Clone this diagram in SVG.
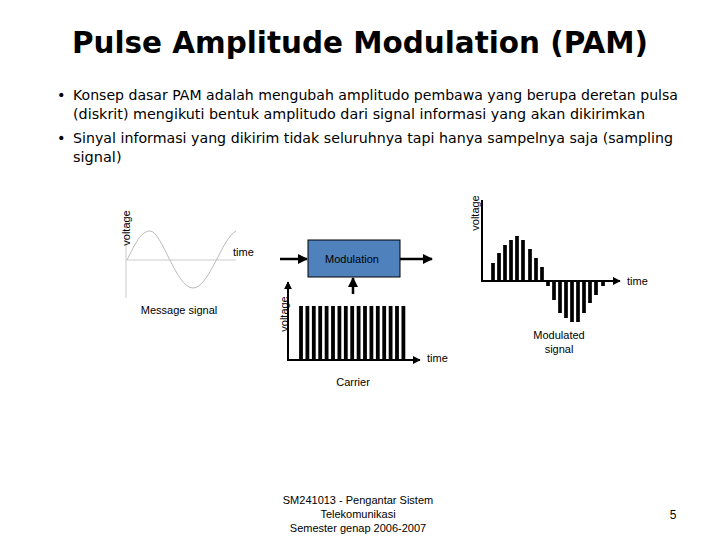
<svg xmlns="http://www.w3.org/2000/svg" width="720" height="540" viewBox="0 0 720 540">
<defs>
<style>
.t{font-family:"Liberation Sans",Arial,sans-serif;fill:#000}
.s{font-size:11px}
.b{font-family:"DejaVu Sans",Verdana,sans-serif;font-size:14.5px;fill:#000}
.ax{stroke:#000;stroke-width:2;fill:none}
.ln{stroke:#000;stroke-width:2.5;fill:none}
</style>
<marker id="ar" viewBox="0 0 10 10" refX="9" refY="5" markerWidth="4" markerHeight="4" orient="auto"><path d="M0,0L10,5L0,10z" fill="#000"/></marker>
</defs>
<rect width="720" height="540" fill="#fff"/>
<text x="360" y="53" text-anchor="middle" font-family="DejaVu Sans,sans-serif" font-weight="bold" font-size="31" textLength="576" lengthAdjust="spacingAndGlyphs">Pulse Amplitude Modulation (PAM)</text>
<g class="b">
<text x="57" y="100">•</text>
<text x="73" y="100" textLength="605" lengthAdjust="spacingAndGlyphs">Konsep dasar PAM adalah mengubah amplitudo pembawa yang berupa deretan pulsa</text>
<text x="73" y="119" textLength="572" lengthAdjust="spacingAndGlyphs">(diskrit) mengikuti bentuk amplitudo dari signal informasi yang akan dikirimkan</text>
<text x="57" y="143">•</text>
<text x="73" y="143" textLength="600" lengthAdjust="spacingAndGlyphs">Sinyal informasi yang dikirim tidak seluruhnya tapi hanya sampelnya saja (sampling</text>
<text x="73" y="162">signal)</text>
</g>
<g id="message">
<line x1="126" y1="210" x2="126" y2="298" stroke="#ccc"/>
<line x1="126" y1="260" x2="236" y2="260" stroke="#ccc"/>
<path d="M127,260 C135,244 141,231 150,231 C162,231 176,288 193,288 C209,288 222,238 236,231" stroke="#bbb" fill="none" stroke-width="1"/>
<text class="t s" transform="translate(130,228) rotate(-90)" text-anchor="middle">voltage</text>
<text class="t s" x="233" y="256">time</text>
<text class="t s" x="179" y="314" text-anchor="middle">Message signal</text>
</g>
<g id="modulation">
<rect x="308" y="240" width="92" height="37" fill="#4f81bd" stroke="#000" stroke-width="1"/>
<text class="t s" x="352" y="263" text-anchor="middle">Modulation</text>
</g>
<g id="carrier">
<line class="ax" x1="288" y1="361" x2="288" y2="282" marker-end="url(#ar)"/>
<line class="ax" x1="288" y1="360" x2="420" y2="360" marker-end="url(#ar)"/>
<path stroke="#000" stroke-width="3.8" d="M301,306V360M307.4,306V360M313.8,306V360M320.2,306V360M326.6,306V360M333,306V360M339.4,306V360M345.8,306V360M352.2,306V360M358.6,306V360M365,306V360M371.4,306V360M377.8,306V360M384.2,306V360M390.6,306V360M397,306V360M403.4,306V360"/>
<text class="t s" transform="translate(288,314) rotate(-90)" text-anchor="middle">voltage</text>
<text class="t s" x="427" y="362">time</text>
<text class="t s" x="353" y="386" text-anchor="middle">Carrier</text>
</g>
<g id="modulated">
<line class="ax" x1="482" y1="282" x2="482" y2="200"/>
<line class="ax" x1="482" y1="281" x2="620" y2="281" marker-end="url(#ar)"/>
<path stroke="#000" stroke-width="3.7" d="M493,281V263M499,281V253M505,281V245M511,281V240M517,281V236M523,281V240M530,281V249M536,281V258M542,281V267M548,281V286M554,281V300M560,281V313M566,281V318M572,281V322M578,281V322M584,281V313M590,281V303M596,281V295M603,281V286"/>
<text class="t s" transform="translate(479,213) rotate(-90)" text-anchor="middle">voltage</text>
<text class="t s" x="627" y="285">time</text>
<text class="t s" x="559" y="339" text-anchor="middle">Modulated</text>
<text class="t s" x="559" y="353" text-anchor="middle">signal</text>
</g>
<g id="connectors">
<line class="ln" x1="280" y1="259" x2="307" y2="259" marker-end="url(#ar)"/>
<line class="ln" x1="400" y1="259" x2="432" y2="259" marker-end="url(#ar)"/>
<line class="ln" x1="353" y1="294" x2="353" y2="278" marker-end="url(#ar)"/>
</g>
<g class="t s" text-anchor="middle" fill="#333">
<text x="358" y="504">SM241013 - Pengantar Sistem</text>
<text x="358" y="518">Telekomunikasi</text>
<text x="358" y="532">Semester genap 2006-2007</text>
</g>
<text class="t" x="673" y="519" font-size="12" text-anchor="middle">5</text>
</svg>
